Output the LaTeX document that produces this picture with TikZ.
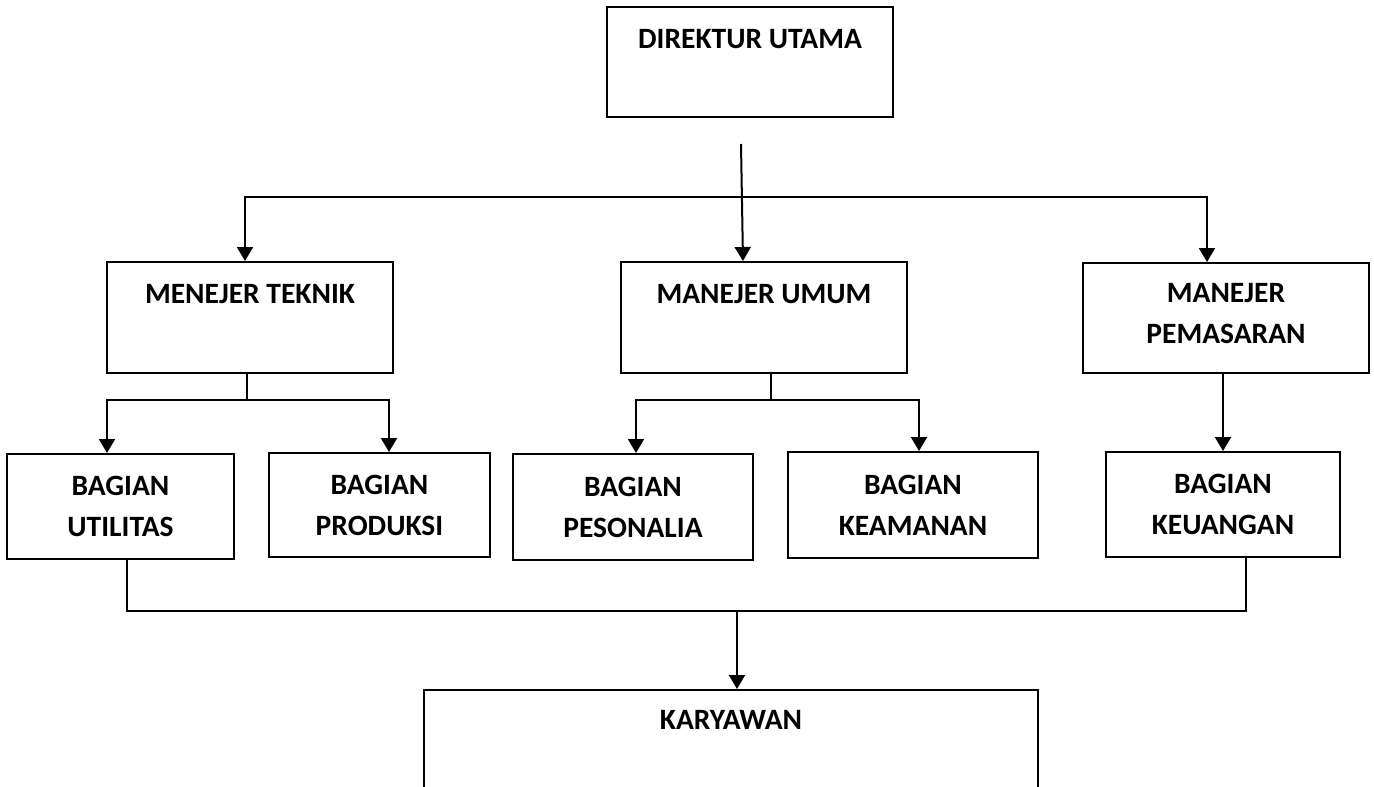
\documentclass[tikz,border=0pt]{standalone}
\usepackage{fontspec}
\usepackage{tikz}
\usetikzlibrary{arrows.meta,calc}
\newfontfamily\orgfont{Carlito}

\begin{document}
\begin{tikzpicture}[x=1pt,y=-1pt,
   box/.style={draw,line width=2pt,inner sep=0pt,align=center,
               font={\orgfont\fontsize{29.5}{41}\bfseries}},
   con/.style={line width=2pt},
   arr/.style={con,-{Triangle[width=16pt,length=14pt]}}]
  \useasboundingbox (0,0) rectangle (1374,787);
  \clip (0,0) rectangle (1374,787);
  \fill[white] (0,0) rectangle (1374,787);
  % top level
  \node[box,minimum width=286pt,text height=41pt,text depth=69pt] (du) at (750,62) {DIREKTUR UTAMA};
  % managers
  \node[box,minimum width=286pt,text height=41pt,text depth=70pt] (mt) at (250,317.5) {MENEJER TEKNIK};
  \node[box,minimum width=286pt,text height=41pt,text depth=70pt] (mu) at (764,317.5) {MANEJER UMUM};
  \node[box,minimum width=286pt,minimum height=110pt] (mp) at (1226,318) {MANEJER\\PEMASARAN\\[-31pt]\mbox{}};
  % sections
  \node[box,minimum width=227pt,minimum height=105pt] (ut) at (120.5,506.5) {BAGIAN\\UTILITAS};
  \node[box,minimum width=221pt,minimum height=104pt] (pr) at (379.5,505) {BAGIAN\\PRODUKSI};
  \node[box,minimum width=240pt,minimum height=106pt] (ps) at (633,507) {BAGIAN\\PESONALIA};
  \node[box,minimum width=250pt,minimum height=106pt] (ka) at (913,505) {BAGIAN\\KEAMANAN};
  \node[box,minimum width=234pt,minimum height=105pt] (ku) at (1223,504.5) {BAGIAN\\KEUANGAN};
  % staff (runs off the page)
  \node[box,minimum width=614pt,text height=39pt,text depth=161pt] (ky) at (731,790) {KARYAWAN};

  % director to managers
  \coordinate (dutail) at (741,144);
  \coordinate (split) at (743,197);
  \draw[arr] (dutail) -- (split |- mu.north);
  \draw[arr] (split) -| ([xshift=-5pt]mt.north);
  \draw[arr] (split) -| ([xshift=-19pt]mp.north);
  % managers to sections
  \draw[con] ([xshift=-3pt]mt.south) -- ++(0,26) coordinate (tk);
  \draw[arr] (tk) -| ([xshift=-13.5pt]ut.north);
  \draw[arr] (tk) -| ([xshift=9.5pt]pr.north);
  \draw[con] ([xshift=7pt]mu.south) -- ++(0,26) coordinate (um);
  \draw[arr] (um) -| ([xshift=3pt]ps.north);
  \draw[arr] (um) -| ([xshift=6pt]ka.north);
  \draw[arr] (ku.north |- mp.south) -- (ku.north);
  % sections to staff
  \coordinate (utout) at ([xshift=6.5pt]ut.south);
  \coordinate (kuout) at ([xshift=23pt]ku.south);
  \coordinate (join) at (737,611);
  \draw[con] (utout) |- (join) -| (kuout);
  \draw[arr] (join) -- (join |- ky.north);
\end{tikzpicture}
\end{document}
